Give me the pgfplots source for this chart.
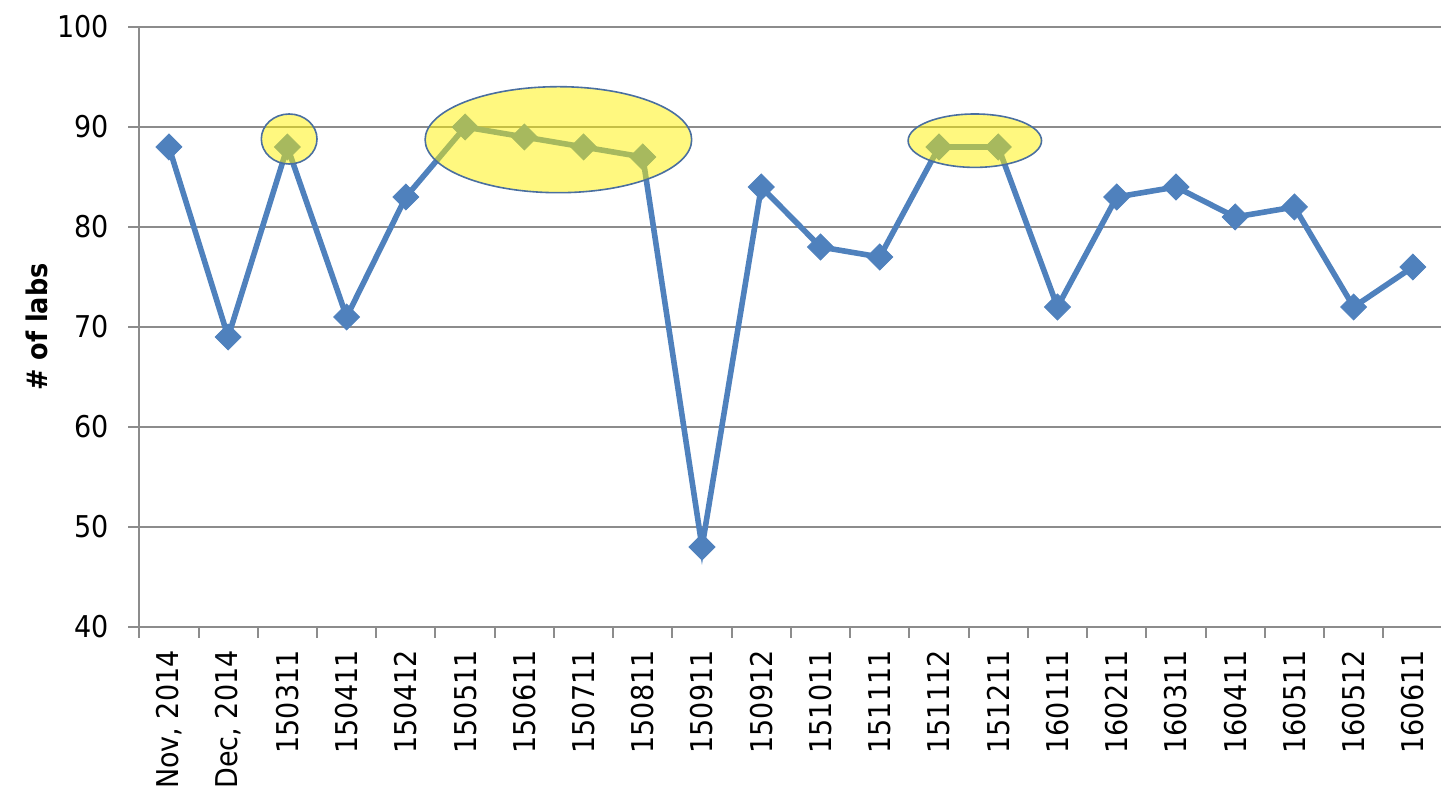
\documentclass[border=0pt]{standalone}
\usepackage{pgfplots}
\pgfplotsset{compat=1.18}
\usepackage{fontspec}
\setmainfont{DejaVu Sans Condensed}
\definecolor{serblue}{HTML}{4F81BD}
\definecolor{gridgray}{HTML}{8C8C8C}
\definecolor{ellline}{HTML}{4A6FA0}
\begin{document}
\begin{tikzpicture}
\begin{axis}[
  at={(0,0)}, anchor=south west,
  scale only axis,
  set layers=standard,
  width=651.6pt, height=300pt,
  xmin=-0.5, xmax=21.5,
  ymin=40, ymax=100,
  ytick={40,50,...,100},
  ymajorgrids,
  grid style={draw=gridgray, line width=1pt},
  axis x line*=bottom, axis y line*=left,
  axis line style={draw=gridgray, line width=1pt},
  tick style={draw=gridgray, line width=1pt},
  tick align=outside,
  major tick length=5.5pt,
  xtick={-0.5,0.5,...,20.5},
  xticklabels={},
  extra x ticks={0,1,...,21},
  extra x tick labels={{Nov, 2014},{Dec, 2014},150311,150411,150412,150511,150611,150711,150811,150911,150912,151011,151111,151112,151211,160111,160211,160311,160411,160511,160512,160611},
  extra x tick style={major tick length=0pt, grid=none,
    tick label style={rotate=90, anchor=east, inner sep=0pt, xshift=-11.5pt}},
  ticklabel style={font=\fontsize{15}{17}\selectfont},
  yticklabel style={inner sep=0pt, xshift=-9.5pt},
  /pgf/number format/assume math mode=true,
  ylabel={\# of labs},
  ylabel style={font=\fontsize{14.2}{16}\selectfont\bfseries, at={(axis description cs:-0.0785,0.5)}, anchor=center, rotate=0},
  clip=false,
]
\addplot[color=serblue, line width=2.8pt, mark=square*, mark size=4.6pt,
  mark options={solid, rotate=45, line width=0.4pt, fill=serblue}]
  coordinates {
  (0,88) (1,69) (2,88) (3,71) (4,83) (5,90) (6,89) (7,88) (8,87) (9,48) (10,84)
  (11,78) (12,77) (13,88) (14,88) (15,72) (16,83) (17,84) (18,81) (19,82) (20,72) (21,76)
  };
\begin{pgfonlayer}{axis foreground}
\draw[draw=ellline, line width=0.8pt, fill=yellow, fill opacity=0.5] (axis cs:2.03,88.8) ellipse [x radius=0.47, y radius=2.5];
\draw[draw=ellline, line width=0.8pt, fill=yellow, fill opacity=0.5] (axis cs:6.575,88.73) ellipse [x radius=2.25, y radius=5.3];
\draw[draw=ellline, line width=0.8pt, fill=yellow, fill opacity=0.5] (axis cs:13.605,88.63) ellipse [x radius=1.126, y radius=2.67];
\end{pgfonlayer}
\end{axis}
\pgfresetboundingbox
\useasboundingbox (-69.65pt,-82.5pt) rectangle (650.85pt,313.5pt);
\end{tikzpicture}
\end{document}
